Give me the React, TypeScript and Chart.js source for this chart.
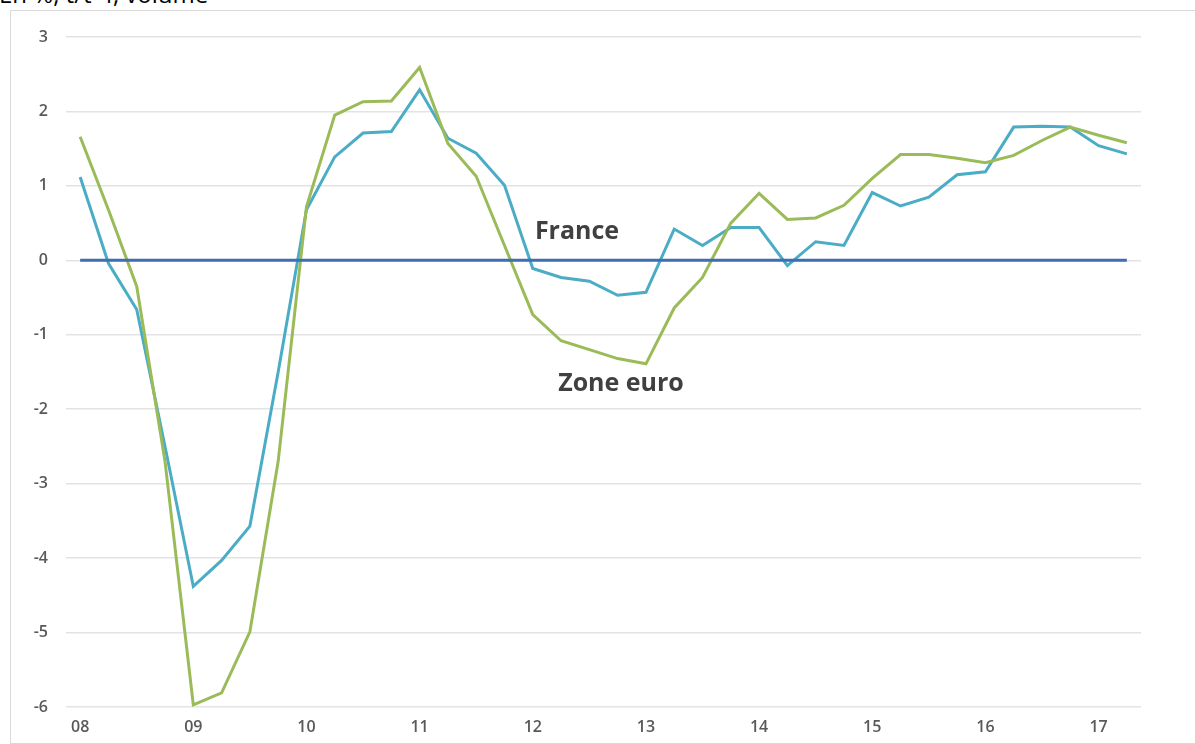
import React, { useEffect, useRef } from "react";
import { Chart, registerables } from "chart.js";

Chart.register(...registerables);

const yearLabels = ["08", "09", "10", "11", "12", "13", "14", "15", "16", "17"];
const quarterNames = ["T1", "T2", "T3", "T4"];
const categories = yearLabels.flatMap((y) => quarterNames.map((q) => y + q)).slice(0, 38);

const france = [
  1.12, -0.04, -0.66, -2.5, -4.38, -4.03, -3.57, -1.5, 0.68, 1.39, 1.71, 1.73, 2.29, 1.64, 1.44, 1.01,
  -0.11, -0.23, -0.28, -0.47, -0.43, 0.42, 0.2, 0.44, 0.44, -0.07, 0.25, 0.2, 0.91, 0.73, 0.85, 1.15,
  1.19, 1.79, 1.8, 1.79, 1.54, 1.43,
];
const zoneEuro = [
  1.66, 0.68, -0.35, -2.7, -5.97, -5.81, -4.99, -2.7, 0.72, 1.95, 2.13, 2.14, 2.59, 1.57, 1.13, 0.2,
  -0.73, -1.08, -1.2, -1.32, -1.39, -0.64, -0.23, 0.5, 0.9, 0.55, 0.57, 0.74, 1.1, 1.42, 1.42, 1.37,
  1.31, 1.41, 1.61, 1.79, 1.68, 1.58,
];
const zeroLine = categories.map(() => 0);

const yMin = -6;
const yMax = 3;

const titleText = "En %, t/t-4, volume";
const franceLabel = "France";
const zoneEuroLabel = "Zone euro";

const tickFont = { family: "'Open Sans'", size: 16, weight: "600" };

export default function App() {
  const canvasRef = useRef<HTMLCanvasElement | null>(null);

  useEffect(() => {
    const canvas = canvasRef.current;
    if (!canvas) return;
    const chart = new Chart(canvas, {
      type: "line",
      data: {
        labels: categories,
        datasets: [
          {
            label: "Zéro",
            data: zeroLine,
            borderColor: "#3f6eb3",
            borderWidth: 3,
            pointRadius: 0,
            tension: 0,
          },
          {
            label: "Zone euro",
            data: zoneEuro,
            borderColor: "#9bbb59",
            borderWidth: 3,
            pointRadius: 0,
            tension: 0,
          },
          {
            label: "France",
            data: france,
            borderColor: "#4bacc6",
            borderWidth: 3,
            pointRadius: 0,
            tension: 0,
          },
        ],
      },
      options: {
        responsive: false,
        animation: false,
        layout: { padding: { left: 10, right: 54, top: 37, bottom: 0 } },
        plugins: {
          legend: { display: false },
          tooltip: { enabled: false },
          title: { display: false },
        },
        scales: {
          x: {
            type: "category",
            offset: true,
            grid: { display: false, drawTicks: false },
            border: { display: false },
            afterFit: (scale: any) => {
              scale.height = 37;
            },
            ticks: {
              autoSkip: false,
              maxRotation: 0,
              minRotation: 0,
              padding: 11,
              color: "#595959",
              font: tickFont,
              callback: (_v: any, index: number) =>
                index % 4 === 0 ? yearLabels[index / 4] : "",
            },
          },
          y: {
            min: yMin,
            max: yMax,
            grid: { color: "#e3e3e3", lineWidth: 1.5, drawTicks: false },
            border: { display: false },
            afterFit: (scale: any) => {
              scale.width = 56;
            },
            ticks: {
              stepSize: 1,
              padding: 18,
              color: "#595959",
              font: tickFont,
            },
          },
        },
      },
    });
    return () => chart.destroy();
  }, []);

  return (
    <div style={{ position: "absolute", left: 0, top: 0, width: 1195, height: 744, overflow: "hidden", background: "#fff" }}>
      <div
        style={{
          position: "absolute",
          left: 10,
          top: 10,
          width: 1200,
          height: 732,
          border: "1px solid #d9d9d9",
        }}
      />
      <div
        style={{
          position: "absolute",
          left: -1,
          top: -18,
          fontFamily: "'Open Sans'",
          fontSize: 24,
          lineHeight: 1,
          color: "#000",
          whiteSpace: "nowrap",
        }}
      >
        {titleText}
      </div>
      <canvas ref={canvasRef} width={1195} height={744} style={{ position: "absolute", left: 0, top: 0 }} />
      <div
        style={{
          position: "absolute",
          left: 577,
          top: 229,
          transform: "translate(-50%, -50%)",
          fontFamily: "'Open Sans'",
          fontWeight: 700,
          fontSize: 25,
          color: "#404040",
          whiteSpace: "nowrap",
        }}
      >
        {franceLabel}
      </div>
      <div
        style={{
          position: "absolute",
          left: 621,
          top: 381,
          transform: "translate(-50%, -50%)",
          fontFamily: "'Open Sans'",
          fontWeight: 700,
          fontSize: 25,
          color: "#404040",
          whiteSpace: "nowrap",
        }}
      >
        {zoneEuroLabel}
      </div>
    </div>
  );
}
